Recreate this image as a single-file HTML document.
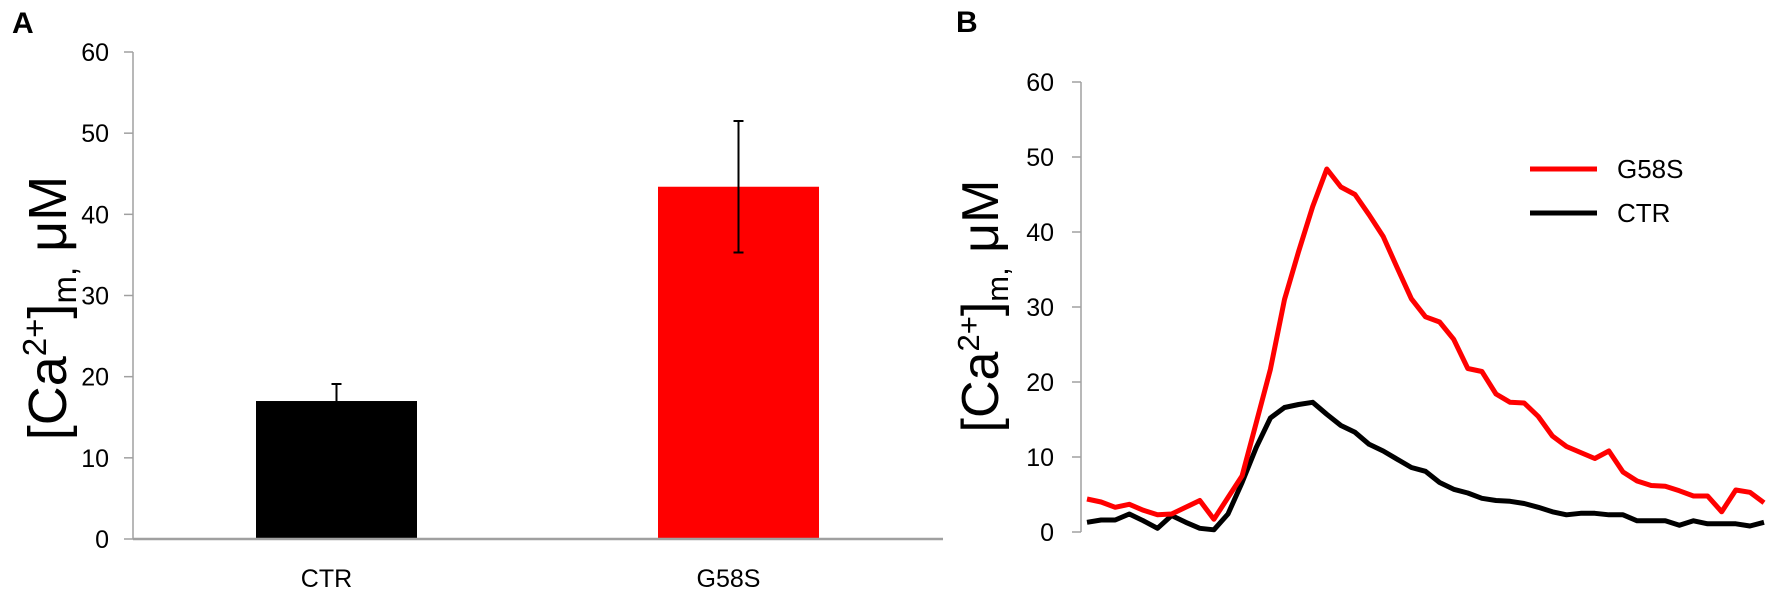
<!DOCTYPE html>
<html><head><meta charset="utf-8">
<style>
html,body{margin:0;padding:0;background:#fff;}
svg{display:block;font-family:"Liberation Sans",sans-serif;}
</style></head>
<body>
<svg id="fig" width="1772" height="599" viewBox="0 0 1772 599">
  <text x="12" y="33" font-size="30" font-weight="bold">A</text>
  <text x="956" y="32" font-size="30" font-weight="bold">B</text>
  <g id="chartA"></g>
  <g id="chartB"></g>
  <text transform="translate(66,308) rotate(-90)" text-anchor="middle" font-size="54" fill="#000">[Ca<tspan font-size="33" dy="-20">2+</tspan><tspan dy="20">]</tspan><tspan font-size="33" dy="10">m,</tspan><tspan dy="-10"> μM</tspan></text>
  <text transform="translate(998,306) rotate(-90)" text-anchor="middle" font-size="52" fill="#000">[Ca<tspan font-size="31" dy="-19">2+</tspan><tspan dy="19">]</tspan><tspan font-size="31" dy="10">m,</tspan><tspan dy="-10"> μM</tspan></text>
  <g>
    <line x1="1530" y1="169" x2="1597" y2="169" stroke="#ff0000" stroke-width="5"/>
    <text x="1617" y="178" font-size="26">G58S</text>
    <line x1="1530" y1="213" x2="1597" y2="213" stroke="#000" stroke-width="5"/>
    <text x="1617" y="222" font-size="26">CTR</text>
  </g>
</svg>
<script>
const barCategories = ["CTR", "G58S"];
const barValues = [17.0, 43.4];
const barErrors = [2.1, 8.1];
const barColors = ["#000000", "#ff0000"];
const yTicks = [0, 10, 20, 30, 40, 50, 60];
const ctrTrace = [1.3,1.6,1.6,2.4,1.5,0.5,2.2,1.3,0.5,0.3,2.4,6.6,11.3,15.2,16.6,17.0,17.3,15.7,14.2,13.3,11.7,10.8,9.7,8.6,8.1,6.6,5.7,5.2,4.5,4.2,4.1,3.8,3.3,2.7,2.3,2.5,2.5,2.3,2.3,1.5,1.5,1.5,0.9,1.5,1.1,1.1,1.1,0.8,1.3];
const g58sTrace = [4.4,4.0,3.3,3.7,2.9,2.3,2.4,3.3,4.2,1.7,4.6,7.5,14.6,21.7,31,37.4,43.4,48.4,46,45,42.3,39.4,35.2,31.1,28.7,28.0,25.7,21.8,21.4,18.4,17.3,17.2,15.4,12.8,11.4,10.6,9.8,10.8,8.0,6.8,6.2,6.1,5.5,4.8,4.8,2.7,5.6,5.3,3.9];

const NS = "http://www.w3.org/2000/svg";
function mk(tag, attrs, parent){const e=document.createElementNS(NS,tag);for(const k in attrs)e.setAttribute(k,attrs[k]);parent.appendChild(e);return e;}

// Panel A
const A = document.getElementById('chartA');
const aY = v => 539 - v * (539 - 52) / 60;
const aAxisX = 133;
const aCenters = [336.5, 738.5];
const barW = 161;
yTicks.forEach(t => {
  const tk = mk('line',{x1:124,x2:aAxisX,y1:aY(t),y2:aY(t),stroke:'#a0a0a0','stroke-width':1.5},A);
  
  
  const lb = mk('text',{x:109,y:aY(t)+9,'text-anchor':'end','font-size':25},A);
  lb.textContent = t;
  
  
});
barCategories.forEach((c,i) => {
  const cx = aCenters[i];
  const r = mk('rect',{x:cx-barW/2,y:aY(barValues[i]),width:barW,height:aY(0)-aY(barValues[i]),fill:barColors[i]},A);
  
  
  const hi = aY(barValues[i]+barErrors[i]);
  const lo = i===0 ? aY(barValues[i]) : aY(barValues[i]-barErrors[i]);
  const e = mk('path',{d:`M${cx},${hi}V${lo}M${cx-5},${hi}H${cx+5}`+(i===0?'':`M${cx-5},${lo}H${cx+5}`),stroke:'#000','stroke-width':2,fill:'none'},A);
  
  
  const lb = mk('text',{x:cx-10,y:587,'text-anchor':'middle','font-size':25},A);
  lb.textContent = c;
  
  
});
const ay = mk('line',{x1:aAxisX,x2:aAxisX,y1:aY(60),y2:aY(0),stroke:'#a0a0a0','stroke-width':1.5},A);


const ax = mk('line',{x1:aAxisX,x2:943,y1:aY(0),y2:aY(0),stroke:'#a0a0a0','stroke-width':2.5},A);



// Panel B
const B = document.getElementById('chartB');
const bY = v => 532 - v * (532 - 82) / 60;
const bAxisX = 1081;
const bX = i => 1087 + i * (1764 - 1087) / (ctrTrace.length - 1);
yTicks.forEach(t => {
  const tk = mk('line',{x1:1072,x2:bAxisX,y1:bY(t),y2:bY(t),stroke:'#a0a0a0','stroke-width':1.5},B);
  
  
  const lb = mk('text',{x:1054,y:bY(t)+9,'text-anchor':'end','font-size':25},B);
  lb.textContent = t;
  
  
});
const by = mk('line',{x1:bAxisX,x2:bAxisX,y1:bY(60),y2:bY(0),stroke:'#a0a0a0','stroke-width':1.5},B);


function trace(arr,color,name){
  const d = arr.map((v,i)=>(i?'L':'M')+bX(i).toFixed(1)+','+bY(v).toFixed(1)).join('');
  const p = mk('path',{d:d,stroke:color,'stroke-width':5,fill:'none','stroke-linejoin':'round'},B);
  
  
}
trace(ctrTrace,'#000000','line-ctr');
trace(g58sTrace,'#ff0000','line-g58s');
</script>
</body></html>
